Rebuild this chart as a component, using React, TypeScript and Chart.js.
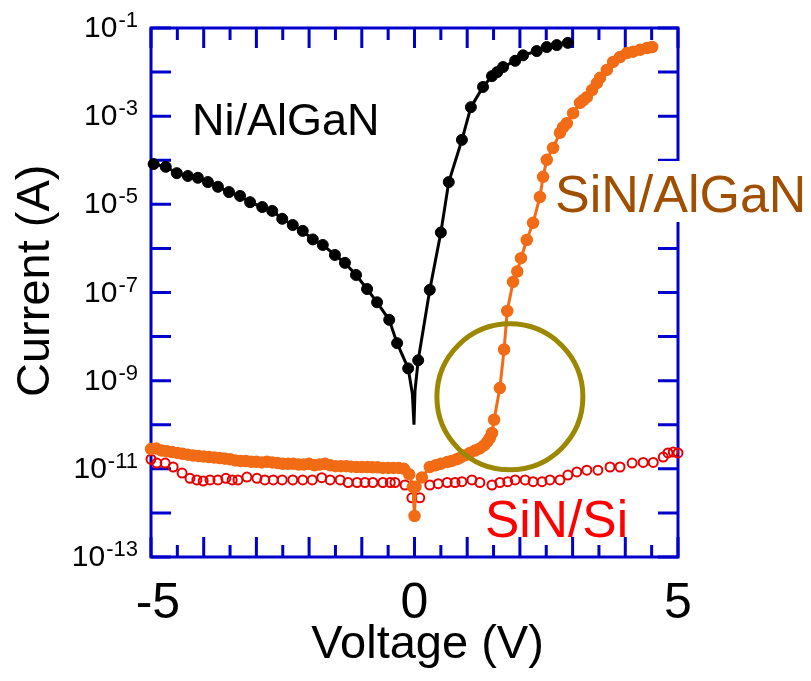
import React, { useEffect, useRef } from 'react';
import { Chart, registerables } from 'chart.js';

Chart.register(...registerables);

// ---------- data ----------
const niV = [-4.95, -4.72, -4.51, -4.30, -4.11, -3.92, -3.73, -3.52, -3.31, -3.12, -2.89, -2.70, -2.51, -2.31, -2.12, -1.93, -1.74, -1.51, -1.32, -1.11, -0.90, -0.71, -0.48, -0.33, -0.12, -0.04, -0.01, 0.01, 0.07, 0.29, 0.50, 0.65, 0.90, 1.07, 1.30, 1.47, 1.57, 1.68, 1.91, 2.06, 2.32, 2.51, 2.70, 2.91];
const niI = [8.2e-5, 7.1e-5, 5.1e-5, 4.4e-5, 4.0e-5, 3.2e-5, 2.5e-5, 1.9e-5, 1.55e-5, 1.12e-5, 8.7e-6, 7.1e-6, 4.7e-6, 3.4e-6, 2.5e-6, 1.6e-6, 1.2e-6, 7.1e-7, 4.7e-7, 2.5e-7, 1.2e-7, 6.0e-8, 2.4e-8, 7.1e-9, 1.9e-9, 5.0e-10, 1.0e-10, 6.0e-10, 2.9e-9, 1.15e-7, 2.3e-6, 3.2e-5, 2.9e-4, 1.6e-3, 4.6e-3, 8.1e-3, 1.0e-2, 1.3e-2, 1.8e-2, 2.4e-2, 3.0e-2, 3.7e-2, 4.1e-2, 4.6e-2];

const sinAlganV = [-5.0, -4.9, -4.8, -4.7, -4.6, -4.5, -4.4, -4.3, -4.2, -4.1, -4.0, -3.9, -3.8, -3.7, -3.6, -3.5, -3.4, -3.3, -3.2, -3.1, -3.0, -2.9, -2.8, -2.7, -2.6, -2.5, -2.4, -2.3, -2.2, -2.1, -2.0, -1.9, -1.8, -1.7, -1.6, -1.5, -1.4, -1.3, -1.2, -1.1, -1.0, -0.9, -0.8, -0.7, -0.6, -0.5, -0.4, -0.3, -0.2, -0.1, -0.03, 0.0, 0.02, 0.14, 0.29, 0.4, 0.5, 0.62, 0.7, 0.8, 0.86, 0.95, 1.05, 1.15, 1.24, 1.32, 1.38, 1.43, 1.47, 1.51, 1.62, 1.70, 1.76, 1.87, 1.95, 2.02, 2.13, 2.25, 2.38, 2.44, 2.51, 2.63, 2.76, 2.82, 2.89, 3.01, 3.14, 3.20, 3.27, 3.37, 3.46, 3.52, 3.65, 3.77, 3.90, 4.03, 4.15, 4.28, 4.41, 4.51];
const sinAlganI = [2.8e-11, 2.9e-11, 2.6e-11, 2.5e-11, 2.4e-11, 2.3e-11, 2.2e-11, 2.1e-11, 2.0e-11, 1.95e-11, 1.9e-11, 1.85e-11, 1.8e-11, 1.75e-11, 1.7e-11, 1.65e-11, 1.55e-11, 1.5e-11, 1.5e-11, 1.45e-11, 1.45e-11, 1.4e-11, 1.45e-11, 1.4e-11, 1.35e-11, 1.3e-11, 1.3e-11, 1.3e-11, 1.25e-11, 1.25e-11, 1.3e-11, 1.2e-11, 1.25e-11, 1.3e-11, 1.2e-11, 1.15e-11, 1.15e-11, 1.15e-11, 1.12e-11, 1.1e-11, 1.1e-11, 1.1e-11, 1.08e-11, 1.08e-11, 1.05e-11, 1.05e-11, 1.05e-11, 1.05e-11, 1.0e-11, 7.5e-12, 3.9e-12, 8.5e-13, 3.9e-12, 6.4e-12, 1.1e-11, 1.2e-11, 1.3e-11, 1.42e-11, 1.5e-11, 1.65e-11, 1.77e-11, 2.0e-11, 2.3e-11, 2.6e-11, 2.9e-11, 3.4e-11, 4.1e-11, 5.0e-11, 6.5e-11, 1.3e-10, 6.8e-10, 5.1e-9, 3.8e-8, 1.74e-7, 3.0e-7, 6.0e-7, 1.55e-6, 3.8e-6, 1.47e-5, 4.2e-5, 1.02e-4, 1.9e-4, 4.2e-4, 5.6e-4, 6.9e-4, 1.17e-3, 2.0e-3, 2.3e-3, 2.7e-3, 3.9e-3, 5.6e-3, 7.4e-3, 1.12e-2, 1.7e-2, 2.2e-2, 2.7e-2, 2.9e-2, 3.2e-2, 3.5e-2, 3.7e-2];

const sinSiV = [-5.0, -4.89, -4.73, -4.58, -4.41, -4.26, -4.13, -4.01, -3.88, -3.73, -3.58, -3.46, -3.35, -3.18, -2.99, -2.84, -2.68, -2.51, -2.31, -2.12, -1.94, -1.76, -1.60, -1.41, -1.26, -1.09, -0.94, -0.79, -0.60, -0.46, -0.37, -0.18, -0.05, 0.10, 0.29, 0.45, 0.62, 0.77, 0.90, 1.09, 1.24, 1.47, 1.62, 1.77, 1.91, 2.10, 2.25, 2.42, 2.57, 2.76, 2.91, 3.08, 3.27, 3.48, 3.71, 3.90, 4.13, 4.34, 4.53, 4.72, 4.81, 4.91, 5.0];
const sinSiI = [1.65e-11, 1.35e-11, 1.35e-11, 1.1e-11, 8.0e-12, 6.1e-12, 5.6e-12, 5.3e-12, 5.6e-12, 5.6e-12, 6.1e-12, 5.6e-12, 5.6e-12, 6.5e-12, 6.1e-12, 5.6e-12, 5.6e-12, 5.6e-12, 5.6e-12, 5.6e-12, 5.6e-12, 6.3e-12, 5.6e-12, 5.6e-12, 4.9e-12, 4.9e-12, 4.9e-12, 4.9e-12, 4.9e-12, 4.9e-12, 4.9e-12, 4.3e-12, 2.2e-12, 2.2e-12, 4.3e-12, 4.6e-12, 4.9e-12, 4.9e-12, 5.1e-12, 5.6e-12, 4.9e-12, 4.3e-12, 4.9e-12, 5.1e-12, 5.6e-12, 5.6e-12, 5.1e-12, 5.1e-12, 5.6e-12, 5.6e-12, 7.2e-12, 8.5e-12, 9.3e-12, 9.3e-12, 1.1e-11, 1.1e-11, 1.35e-11, 1.4e-11, 1.4e-11, 1.85e-11, 2.3e-11, 2.4e-11, 2.3e-11];

const highlightV = [1.81];
const highlightI = [4.3e-10];

const xTickValues = [-5, 0, 5];
const xTickLabels = [' -5', '0', '5'];
const yTickExponents = [-1, -3, -5, -7, -9, -11, -13];

const xTitle = '  Voltage (V)';
const yTitle = '\u2002Current (A)';

// ---------- styles ----------
const FONT = '"Liberation Sans", Arial, Helvetica, sans-serif';
const BLUE = '#0000cc';
const ORANGE = '#f26b15';
const RED = '#e80000';
const OLIVE = '#9b8700';
const BROWN = '#a04f00';

const toPts = (xs: number[], ys: number[]) => xs.map((x, i) => ({ x, y: ys[i] }));

const framePlugin = {
  id: 'framePlugin',
  beforeDatasetsDraw(chart: any) {
    const { ctx, chartArea: a, scales } = chart;
    const xs = scales.x;
    const ys = scales.y;
    ctx.save();
    ctx.strokeStyle = BLUE;
    ctx.lineWidth = 3;
    ctx.strokeRect(a.left, a.top, a.right - a.left, a.bottom - a.top);
    ctx.beginPath();
    for (let k = Math.ceil(xs.min * 2); k <= Math.floor(xs.max * 2); k++) {
      const px = xs.getPixelForValue(k / 2);
      const len = k % 2 === 0 ? 20 : 12;
      ctx.moveTo(px, a.bottom);
      ctx.lineTo(px, a.bottom - len);
      ctx.moveTo(px, a.top);
      ctx.lineTo(px, a.top + len);
    }
    const e0 = Math.round(Math.log10(ys.min));
    const e1 = Math.round(Math.log10(ys.max));
    for (let e = e0; e <= e1; e++) {
      const py = ys.getPixelForValue(Math.pow(10, e));
      ctx.moveTo(a.left, py);
      ctx.lineTo(a.left + 20, py);
      ctx.moveTo(a.right, py);
      ctx.lineTo(a.right - 20, py);
    }
    ctx.stroke();
    ctx.restore();
  },
  afterDatasetsDraw(chart: any) {
    const { ctx } = chart;
    ctx.save();
    ctx.textAlign = 'left';
    ctx.textBaseline = 'alphabetic';
    ctx.fillStyle = '#000';
    ctx.font = `45px ${FONT}`;
    ctx.fillText('Ni/AlGaN', 192, 135);

    ctx.fillStyle = '#ffffff';
    ctx.fillRect(554, 161, 257, 61);
    ctx.fillStyle = BROWN;
    ctx.font = `52px ${FONT}`;
    ctx.fillText('SiN/AlGaN', 555, 212);

    ctx.fillStyle = '#ff0000';
    ctx.font = `51.5px ${FONT}`;
    ctx.fillText('SiN/Si', 485, 537);
    ctx.restore();
  },
  afterDraw(chart: any) {
    const { ctx, scales } = chart;
    const ys = scales.y;
    const right = ys.right - 13;
    ctx.save();
    ctx.fillStyle = '#000';
    ctx.textAlign = 'right';
    ctx.textBaseline = 'alphabetic';
    for (const e of yTickExponents) {
      const py = ys.getPixelForValue(Math.pow(10, e));
      const exp = String(e);
      ctx.font = `22px ${FONT}`;
      const w = ctx.measureText(exp).width;
      ctx.fillText(exp, right, py - 1);
      ctx.font = `30px ${FONT}`;
      ctx.fillText('10', right - w - 1, py + 9);
    }
    ctx.restore();
  },
};

export default function App() {
  const ref = useRef<HTMLCanvasElement | null>(null);

  useEffect(() => {
    if (!ref.current) return;
    const chart = new Chart(ref.current, {
      type: 'scatter',
      data: {
        datasets: [
          {
            label: 'highlight',
            data: toPts(highlightV, highlightI),
            showLine: false,
            pointRadius: 73,
            pointHoverRadius: 73,
            pointBorderWidth: 5,
            pointBorderColor: OLIVE,
            pointBackgroundColor: 'rgba(0,0,0,0)',
            order: 0,
            clip: false,
          } as any,
          {
            label: 'SiN/AlGaN',
            data: toPts(sinAlganV, sinAlganI),
            showLine: true,
            borderColor: ORANGE,
            borderWidth: 3,
            pointRadius: 5.5,
            pointBorderWidth: 1.5,
            pointBorderColor: ORANGE,
            pointBackgroundColor: ORANGE,
            order: 1,
            clip: false,
          } as any,
          {
            label: 'Ni/AlGaN',
            data: toPts(niV, niI),
            showLine: true,
            borderColor: '#000',
            borderWidth: 3,
            pointRadius: (c: any) => (c.raw && c.raw.y < 1e-9 ? 0 : 5.5),
            pointBorderWidth: 1,
            pointBorderColor: '#000',
            pointBackgroundColor: '#000',
            order: 2,
            clip: false,
          } as any,
          {
            label: 'SiN/Si',
            data: toPts(sinSiV, sinSiI),
            showLine: false,
            pointRadius: 4.5,
            pointBorderWidth: 2,
            pointBorderColor: RED,
            pointBackgroundColor: 'rgba(0,0,0,0)',
            order: 3,
            clip: false,
          } as any,
        ],
      },
      options: {
        responsive: false,
        animation: false,
        events: [],
        layout: { autoPadding: false, padding: { left: 0, top: 28, right: 133, bottom: 0 } },
        plugins: { legend: { display: false }, tooltip: { enabled: false } },
        scales: {
          x: {
            type: 'linear',
            position: 'bottom',
            min: -5,
            max: 5,
            grid: { display: false },
            border: { display: false },
            ticks: {
              stepSize: 5,
              autoSkip: false,
              maxRotation: 0,
              padding: 9,
              color: '#000',
              font: { family: FONT, size: 50 },
              callback: (v: any) => {
                const i = xTickValues.indexOf(Number(v));
                return i >= 0 ? xTickLabels[i] : '';
              },
            },
            title: {
              display: true,
              text: xTitle,
              color: '#000',
              font: { family: FONT, size: 47 },
              padding: { top: 0, bottom: 8 },
            },
            afterFit: (s: any) => {
              s.height = 124;
            },
          },
          y: {
            type: 'logarithmic',
            position: 'left',
            min: 1e-13,
            max: 1e-1,
            grid: { display: false },
            border: { display: false },
            ticks: { display: false },
            title: {
              display: true,
              text: yTitle,
              color: '#000',
              font: { family: FONT, size: 47 },
              padding: { top: 8, bottom: 0 },
            },
            afterFit: (s: any) => {
              s.width = 151;
            },
          },
        },
      } as any,
      plugins: [framePlugin],
    });
    return () => chart.destroy();
  }, []);

  return (
    <canvas
      ref={ref}
      width={811}
      height={681}
      style={{ position: 'fixed', left: 0, top: 0, width: 811, height: 681, display: 'block' }}
    />
  );
}
